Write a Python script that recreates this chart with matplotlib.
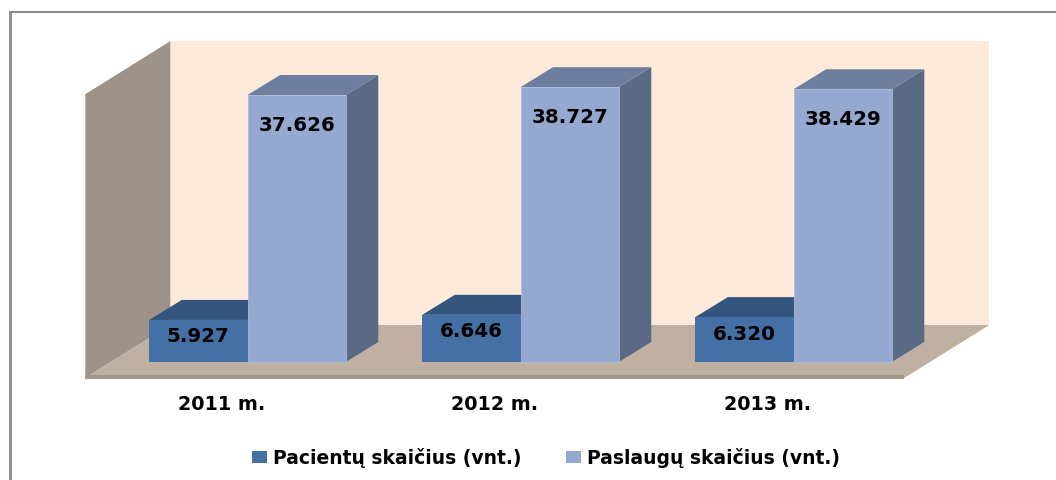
import matplotlib
matplotlib.use("Agg")
import matplotlib.pyplot as plt
from matplotlib.patches import Polygon, Patch
from matplotlib.lines import Line2D

# ---- data ----
categories = ["2011 m.", "2012 m.", "2013 m."]
patients = [5927, 6646, 6320]        # Pacientų skaičius (vnt.)
services = [37626, 38727, 38429]     # Paslaugų skaičius (vnt.)
series_names = ["Pacientų skaičius (vnt.)", "Paslaugų skaičius (vnt.)"]
value_max = 40000

# ---- style ----
c_dark, c_dark_top, c_dark_side = "#4470A6", "#34557E", "#2E4B70"
c_light, c_light_top, c_light_side = "#95A9D0", "#6E7E9E", "#5B6A84"
c_back, c_left, c_floor, c_floor_edge = "#FDEADA", "#9F9389", "#BFB0A2", "#A0968C"

W, H = 1056, 480
fig = plt.figure(figsize=(W / 100, H / 100), dpi=100)
fig.patch.set_facecolor("white")
ax = fig.add_axes([0, 0, 1, 1])
ax.axis("off")

# pixel scales (x: category units, y: value units)
px_x = 273.0           # pixels per category
px_y = 0.007096        # pixels per value unit
x0_px, y0_px = 247.5, 362.0
ax.set_xlim(-x0_px / px_x, (W - x0_px) / px_x)
ax.set_ylim((y0_px - H) / px_y, y0_px / px_y)

def dxp(p):  # pixel offset -> x units
    return p / px_x

def dyp(p):  # pixel offset -> y units
    return p / px_y

# depth geometry (relative to the bar front plane)
L, R = -0.5, len(categories) - 0.5
fdx, fdy = dxp(-25.7), dyp(-16)    # floor front edge
bwdx, bwdy = dxp(59.3), dyp(37)    # back wall plane
bdx, bdy = dxp(32.5), dyp(20)      # bar depth

# walls and floor
ax.add_patch(Polygon([(L + bwdx, bwdy), (R + bwdx, bwdy),
                      (R + bwdx, bwdy + value_max), (L + bwdx, bwdy + value_max)],
                     closed=True, fc=c_back, ec="none", zorder=1))
ax.add_patch(Polygon([(L + fdx, fdy), (L + fdx, fdy + value_max),
                      (L + bwdx, bwdy + value_max), (L + bwdx, bwdy)],
                     closed=True, fc=c_left, ec="none", zorder=1))
ax.add_patch(Polygon([(L + fdx, fdy), (R + fdx, fdy), (R + bwdx, bwdy), (L + bwdx, bwdy)],
                     closed=True, fc=c_floor, ec="none", zorder=2))
ax.plot([L + fdx, R + fdx], [fdy + dyp(1.5), fdy + dyp(1.5)], color=c_floor_edge,
        lw=3, solid_capstyle="butt", zorder=2)

w = 0.36
xs = list(range(len(categories)))

def box(xl, v, top, side, z):
    xr = xl + w
    ax.add_patch(Polygon([(xr, 0), (xr, v), (xr + bdx, v + bdy), (xr + bdx, bdy)],
                         closed=True, fc=side, ec="none", zorder=z))
    ax.add_patch(Polygon([(xl, v), (xr, v), (xr + bdx, v + bdy), (xl + bdx, v + bdy)],
                         closed=True, fc=top, ec="none", zorder=z))

for i, x in enumerate(xs):
    box(x - w, patients[i], c_dark_top, c_dark_side, 3)
    ax.bar(x - w / 2, patients[i], width=w, color=c_dark, zorder=4)
    box(x, services[i], c_light_top, c_light_side, 5)
    ax.bar(x + w / 2, services[i], width=w, color=c_light, zorder=6,
           edgecolor="#A9BADB", linewidth=0.6)

def fmt(v):
    return f"{v:,}".replace(",", ".")

for i, x in enumerate(xs):
    ax.text(x - w / 2, patients[i] - dyp(17), fmt(patients[i]), ha="center", va="center",
            fontsize=14.3, fontweight="bold", color="black", zorder=10)
    ax.text(x + w / 2, services[i] - dyp(30), fmt(services[i]), ha="center", va="center",
            fontsize=14.3, fontweight="bold", color="black", zorder=10)
    ax.text(x + fdx, dyp(362 - 405), categories[i], ha="center", va="center",
            fontsize=13.8, fontweight="bold", color="black", zorder=10)

handles = [Patch(fc=c_dark, ec="none"), Patch(fc=c_light, ec="none")]
fig.legend(handles, series_names, loc="center", bbox_to_anchor=(546 / W, 1 - 458 / H),
           ncol=2, frameon=False, prop={"family": "DejaVu Sans", "weight": "bold", "size": 13.5},
           handlelength=0.8, handleheight=0.6, handletextpad=0.3, columnspacing=2.4,
           borderpad=0)

# outer border (left and top)
fig.add_artist(Line2D([9.5 / W, 9.5 / W], [0, 1 - 12 / H], transform=fig.transFigure,
                      color="#8C8C8C", lw=2))
fig.add_artist(Line2D([9.5 / W, 1], [1 - 12 / H, 1 - 12 / H], transform=fig.transFigure,
                      color="#8C8C8C", lw=1.5))

fig.savefig("out.png", dpi=100, facecolor="white")
